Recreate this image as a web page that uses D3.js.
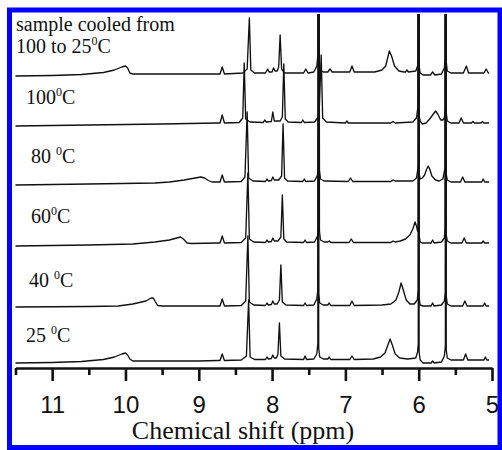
<!DOCTYPE html>
<html>
<head>
<meta charset="utf-8">
<script src="https://cdn.jsdelivr.net/npm/d3@7"></script>
<style>
  html, body { margin: 0; padding: 0; background: #ffffff; }
  svg { display: block; }
</style>
</head>
<body>
<svg id="chart" width="502" height="450"></svg>
<script>
// ---------------- data ----------------
const xDomain = [11.5, 5];                       // chemical shift, ppm (reversed axis)
const majorTicks = [11, 10, 9, 8, 7, 6, 5];
const minorTicks = [11.5, 10.5, 9.5, 8.5, 7.5, 6.5, 5.5];
const axisTitle = "Chemical shift (ppm)";

// trace labels: main text + superscript "0" + "C"
const labelMain = ["25 ", "40 ", "60", "80 ", "100", "100 to 25"];
const labelSup = ["0", "0", "0", "0", "0", "0"];
const labelTail = ["C", "C", "C", "C", "C", "C"];
const labelExtraLine = "sample cooled from";

// vertical stacking offset of each trace (a.u.)
const traceOffsets = [8, 62, 125, 186, 245, 296];

// spectra: [ppm, intensity a.u.] vertices
const spec25 = [
  [11.5,-3],[11.0,-2.5],[10.6,-1.5],[10.3,0.5],[10.15,3],[10.05,6],[10.0,7],[9.97,5],[9.94,1],[9.9,-1],[9.5,-1],[9.0,-1],[8.75,-0.5],
  [8.71,-0.5],[8.68,6],[8.65,-0.5],
  [8.42,0],[8.35,4],[8.32,60],[8.30,3],[8.24,0.5],
  [8.09,0.5],[8.07,3],[8.05,1],[8.01,1.5],[7.99,5],[7.97,2],
  [7.94,2],[7.92,6],[7.90,37],[7.88,4],[7.83,1],
  [7.57,0.5],[7.55,4],[7.53,0.5],
  [7.43,1],[7.39,6],[7.376,16],[7.37,420],[7.364,12],[7.35,3],[7.30,1],
  [7.24,1],[7.22,3],[7.20,0.5],
  [6.94,0.5],[6.91,4],[6.88,0.5],
  [6.62,1],[6.52,3],[6.46,7],[6.42,15],[6.39,21],[6.36,15],[6.32,6],[6.26,2],[6.15,1],
  [6.04,2],[6.015,8],[6.006,16],[6.00,420],[5.994,8],[5.98,0],[5.94,-3],
  [5.83,-3],[5.81,-1],[5.79,-3],
  [5.69,-2],[5.65,4],[5.636,14],[5.63,420],[5.624,10],[5.61,2],[5.56,0],
  [5.39,0],[5.36,6],[5.33,0],
  [5.11,0],[5.09,3],[5.07,0],[5.04,0]
];
const spec40 = [
  [11.5,-1],[10.5,-0.5],[10.1,0],[9.9,2],[9.72,5],[9.65,8],[9.62,8],[9.59,4],[9.56,0.5],[9.5,0],[8.75,0],
  [8.71,0],[8.68,7],[8.65,0],
  [8.42,0.5],[8.36,5],[8.33,70],[8.31,4],[8.25,1],
  [8.09,0.5],[8.07,3],[8.05,1],[8.01,1.5],[7.99,5],[7.97,2],
  [7.93,2],[7.90,6],[7.88,41],[7.86,4],[7.81,1],
  [7.57,0.5],[7.55,3],[7.53,0.5],
  [7.43,1],[7.39,7],[7.376,16],[7.37,420],[7.364,12],[7.35,3],[7.30,1],
  [7.24,1],[7.22,3],[7.20,0.5],
  [6.94,0.5],[6.91,5],[6.88,0.5],
  [6.50,1],[6.38,2],[6.31,6],[6.27,14],[6.24,23],[6.21,16],[6.17,6],[6.12,2],[6.06,2],
  [6.02,6],[6.006,16],[6.00,420],[5.994,8],[5.98,1],[5.94,0],
  [5.83,0],[5.81,3],[5.79,0],
  [5.69,1],[5.65,5],[5.636,14],[5.63,420],[5.624,10],[5.61,2],[5.56,0],
  [5.40,0],[5.37,5],[5.34,0],
  [5.12,0],[5.10,3],[5.08,0],[5.04,0]
];
const spec60 = [
  [11.5,-3],[10.5,-2],[9.9,-1],[9.6,1],[9.4,3],[9.3,5],[9.25,6],[9.21,4],[9.16,0],[9.1,-0.5],[8.75,0],
  [8.71,0],[8.68,7],[8.65,0],
  [8.42,0.5],[8.36,5],[8.33,70],[8.31,4],[8.25,1],
  [8.09,0.5],[8.07,3],[8.05,1],[8.01,1.5],[7.99,5],[7.97,2],
  [7.92,2],[7.88,6],[7.86,48],[7.84,4],[7.80,1],
  [7.57,0.5],[7.55,3],[7.53,0.5],
  [7.42,1],[7.38,7],[7.366,16],[7.36,420],[7.354,12],[7.34,3],[7.29,1],
  [7.24,1],[7.22,2],[7.20,0.5],
  [6.95,0.5],[6.92,4],[6.89,0.5],
  [6.38,0.5],[6.35,2],[6.32,1],
  [6.25,2],[6.18,4],[6.12,8],[6.08,14],[6.05,21],[6.03,17],[6.015,12],[6.006,16],[6.00,420],[5.994,8],[5.98,1],[5.95,0],
  [5.83,0],[5.81,3],[5.79,0],
  [5.69,1],[5.65,5],[5.641,14],[5.635,420],[5.629,10],[5.61,2],[5.56,0],
  [5.41,0],[5.38,5],[5.35,0],
  [5.14,0],[5.12,2],[5.10,0],[5.04,0]
];
const spec80 = [
  [11.5,-3],[10.5,-2],[9.6,-1],[9.4,0],[9.2,2],[9.05,4],[8.97,5],[8.92,4],[8.87,1.5],[8.82,0],[8.75,0],
  [8.71,0],[8.68,7],[8.65,0],
  [8.42,0.5],[8.37,5],[8.34,70],[8.32,4],[8.26,1],
  [8.09,0.5],[8.07,3],[8.05,1],[8.01,1.5],[7.99,5],[7.97,2],
  [7.91,2],[7.87,6],[7.85,58],[7.83,4],[7.79,1],
  [7.58,0.5],[7.56,3],[7.54,0.5],
  [7.42,1],[7.38,7],[7.366,16],[7.36,420],[7.354,12],[7.34,3],[7.29,1],
  [6.96,0.5],[6.93,4],[6.90,0.5],
  [6.38,0.5],[6.35,2],[6.32,1],
  [6.08,1],[6.03,4],[6.006,16],[6.00,420],[5.994,8],[5.98,3],[5.95,4],[5.92,7],[5.89,13],[5.87,16],[5.85,13],[5.82,6],[5.77,2],[5.72,1],
  [5.67,3],[5.641,14],[5.635,420],[5.629,10],[5.61,2],[5.56,0],
  [5.43,0],[5.40,5],[5.37,0],
  [5.14,0],[5.12,3],[5.10,0],[5.04,0]
];
const spec100 = [
  [11.5,-3],[10.5,-2],[9.5,-1],[8.75,0],
  [8.71,0],[8.68,8],[8.65,0],
  [8.45,0.5],[8.40,5],[8.38,60],[8.36,4],[8.30,1],
  [8.12,0.5],[8.10,3],[8.08,1],[8.01,1.5],[7.99,11],[7.97,2],
  [7.89,2],[7.86,6],[7.84,59],[7.82,4],[7.78,1],
  [7.60,0.5],[7.58,3],[7.56,0.5],
  [7.42,1],[7.36,7],[7.33,68],[7.31,5],[7.26,1],
  [7.00,0],[6.98,2],[6.96,0],
  [6.38,0],[6.35,1.5],[6.32,0],
  [6.08,1],[6.03,5],[6.011,16],[6.005,420],[5.999,8],[5.98,2],[5.95,-1],[5.90,0],[5.85,4],[5.80,9],[5.77,12],[5.74,9],[5.70,3],[5.67,3],
  [5.65,5],[5.636,14],[5.63,420],[5.624,10],[5.61,2],[5.56,0],
  [5.45,0],[5.42,5],[5.39,0],
  [5.28,0],[5.26,1.5],[5.24,0],
  [5.15,0],[5.13,1.5],[5.11,0],[5.04,0]
];
const specCooled = [
  [11.5,-4],[11.0,-3.5],[10.6,-2.5],[10.3,-0.5],[10.15,2],[10.05,5],[10.0,6],[9.97,4],[9.94,-1],[9.9,-2],[9.0,-2],[8.75,-2],
  [8.71,-2],[8.68,5],[8.65,-2],
  [8.40,-1],[8.34,3],[8.31,54],[8.29,2],[8.24,-1],
  [8.09,-1],[8.06,3],[8.04,0],[8.00,0],[7.98,4],[7.96,1],
  [7.93,1],[7.91,5],[7.89,37],[7.87,3],[7.83,-1],
  [7.57,-1],[7.54,3],[7.51,-1],
  [7.43,0],[7.39,6],[7.376,16],[7.37,420],[7.364,12],[7.35,2],[7.30,0],
  [7.24,0],[7.21,3],[7.18,0],
  [6.94,0],[6.91,6],[6.88,0],
  [6.60,0],[6.50,2],[6.45,6],[6.42,15],[6.40,21],[6.37,16],[6.33,6],[6.27,1],[6.20,0],
  [6.18,0],[6.16,2],[6.14,0],
  [6.04,1],[6.015,6],[6.006,16],[6.00,420],[5.994,6],[5.98,-1],[5.94,-3],
  [5.84,-3],[5.81,0],[5.78,-3],
  [5.69,-2],[5.65,4],[5.636,14],[5.63,420],[5.624,10],[5.61,1],[5.56,-1],
  [5.39,-1],[5.35,6],[5.32,-1],
  [5.11,-1],[5.08,3],[5.05,-1],[5.04,-1]
];
const spectra = [spec25, spec40, spec60, spec80, spec100, specCooled];

// ---------------- drawing ----------------
const W = 502, H = 450;
const svg = d3.select("#chart");
svg.append("rect").attr("x", 0).attr("y", 0).attr("width", W).attr("height", H).attr("fill", "#fff");

const axisY = 368;
const x = d3.scaleLinear().domain(xDomain).range([15.5, 492]);
const y = d3.scaleLinear().domain([0, 353]).range([axisY, 15]);

svg.append("clipPath").attr("id", "plotclip")
  .append("rect").attr("x", 14).attr("y", 14).attr("width", 482).attr("height", axisY - 14);

const line = d3.line().x(d => x(d[0])).y(d => d.y);

const gTraces = svg.append("g").attr("clip-path", "url(#plotclip)");
spectra.forEach((spec, i) => {
  const pts = spec.map(d => { const p = [d[0], d[1]]; p.y = y(traceOffsets[i] + d[1]); return p; });
  gTraces.append("path")
    .attr("d", line(pts))
    .attr("fill", "none")
    .attr("stroke", "#111")
    .attr("stroke-width", 1.35)
    .attr("stroke-linejoin", "round");
});

// axis
const gAxis = svg.append("g").attr("transform", `translate(0,${axisY})`);
gAxis.call(d3.axisBottom(x).tickValues(majorTicks).tickSize(13).tickSizeOuter(0).tickFormat(d3.format("d")));
const gMinor = svg.append("g").attr("transform", `translate(0,${axisY})`);
gMinor.call(d3.axisBottom(x).tickValues(minorTicks).tickSize(7).tickSizeOuter(0).tickFormat(""));
gMinor.select(".domain").remove();
[gAxis, gMinor].forEach(g => {
  g.selectAll("line").attr("stroke", "#111").attr("stroke-width", 2.6);
});
gAxis.select(".domain").attr("stroke", "#111").attr("stroke-width", 2.4);
gAxis.selectAll("text")
  .attr("y", 45).attr("dy", null)
  .attr("fill", "#111")
  .style("font-family", "'Liberation Sans', Arial, sans-serif")
  .style("font-size", "24px");

// axis title
svg.append("text")
  .attr("x", 243).attr("y", 439)
  .attr("text-anchor", "middle")
  .attr("fill", "#111")
  .style("font-family", "'Liberation Serif', 'Times New Roman', serif")
  .style("font-size", "26px")
  .text(axisTitle);

// trace labels
const labelPos = [[26, 342], [29, 287], [31, 223], [31, 163], [26, 104], [16, 53]];
const serif = "'Liberation Serif', 'Times New Roman', serif";
labelMain.forEach((t, i) => {
  const tx = svg.append("text")
    .attr("x", labelPos[i][0]).attr("y", labelPos[i][1])
    .attr("fill", "#111")
    .style("font-family", serif).style("font-size", "20px")
    .attr("xml:space", "preserve");
  tx.append("tspan").text(t);
  tx.append("tspan").attr("dy", -8).style("font-size", "12px").text(labelSup[i]);
  tx.append("tspan").attr("dy", 8).text(labelTail[i]);
});
svg.append("text")
  .attr("x", 16).attr("y", 31)
  .attr("fill", "#111")
  .style("font-family", serif).style("font-size", "20px")
  .text(labelExtraLine);

// blue frame
svg.append("rect")
  .attr("x", 9.5).attr("y", 10).attr("width", 490.5).attr("height", 437.5)
  .attr("fill", "none").attr("stroke", "#0000ff").attr("stroke-width", 5);
</script>
</body>
</html>
